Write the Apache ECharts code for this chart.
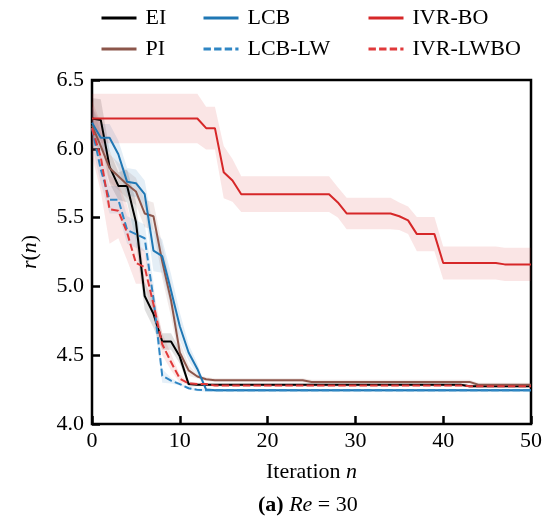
<!DOCTYPE html>
<html>
<head>
<meta charset="utf-8">
<script src="https://cdn.jsdelivr.net/npm/echarts@6/dist/echarts.min.js"></script>
<style>
html,body{margin:0;padding:0;background:#fff;}
#chart{width:547px;height:522px;}
</style>
</head>
<body>
<div id="chart"></div>
<script>
// ---- data (iteration n = 0..50) ----
const xTicks = [0, 10, 20, 30, 40, 50];
const yTicks = [4.0, 4.5, 5.0, 5.5, 6.0, 6.5];
const seriesNames = ['EI', 'PI', 'LCB', 'LCB-LW', 'IVR-BO', 'IVR-LWBO'];

const EI = [6.22, 6.21, 5.87, 5.73, 5.73, 5.47, 4.93, 4.80, 4.60, 4.60,
  4.49, 4.29, 4.285, 4.285, 4.285, 4.285, 4.285, 4.285, 4.285, 4.285,
  4.285, 4.285, 4.285, 4.285, 4.285, 4.285, 4.285, 4.285, 4.285, 4.285,
  4.285, 4.285, 4.285, 4.285, 4.285, 4.285, 4.285, 4.285, 4.285, 4.285,
  4.285, 4.285, 4.285, 4.275, 4.275, 4.275, 4.275, 4.275, 4.275, 4.275, 4.275];
const PI = [6.17, 6.02, 5.86, 5.80, 5.74, 5.69, 5.53, 5.51, 5.18, 4.90,
  4.52, 4.39, 4.345, 4.325, 4.318, 4.318, 4.318, 4.318, 4.318, 4.318,
  4.318, 4.318, 4.318, 4.318, 4.318, 4.306, 4.306, 4.306, 4.306, 4.306,
  4.306, 4.306, 4.306, 4.306, 4.306, 4.306, 4.306, 4.306, 4.306, 4.306,
  4.306, 4.306, 4.306, 4.306, 4.285, 4.285, 4.285, 4.285, 4.285, 4.285, 4.285];
const LCB = [6.19, 6.08, 6.08, 5.96, 5.76, 5.75, 5.67, 5.26, 5.22, 4.97,
  4.71, 4.52, 4.40, 4.25, 4.245, 4.245, 4.245, 4.245, 4.245, 4.245,
  4.245, 4.245, 4.245, 4.245, 4.245, 4.245, 4.245, 4.245, 4.245, 4.245,
  4.245, 4.245, 4.245, 4.245, 4.245, 4.245, 4.245, 4.245, 4.245, 4.245,
  4.245, 4.245, 4.245, 4.245, 4.245, 4.245, 4.245, 4.245, 4.245, 4.245, 4.245];
const LCB_LW = [6.15, 5.85, 5.63, 5.63, 5.41, 5.38, 5.35, 4.91, 4.35, 4.315,
  4.29, 4.26, 4.248, 4.245, 4.245, 4.245, 4.245, 4.245, 4.245, 4.245,
  4.245, 4.245, 4.245, 4.245, 4.245, 4.245, 4.245, 4.245, 4.245, 4.245,
  4.245, 4.245, 4.245, 4.245, 4.245, 4.245, 4.245, 4.245, 4.245, 4.245,
  4.245, 4.245, 4.245, 4.245, 4.245, 4.245, 4.245, 4.245, 4.245, 4.245, 4.245];
const IVR_BO = [6.22, 6.22, 6.22, 6.22, 6.22, 6.22, 6.22, 6.22, 6.22, 6.22,
  6.22, 6.22, 6.22, 6.15, 6.15, 5.83, 5.77, 5.67, 5.67, 5.67,
  5.67, 5.67, 5.67, 5.67, 5.67, 5.67, 5.67, 5.67, 5.61, 5.53,
  5.53, 5.53, 5.53, 5.53, 5.53, 5.51, 5.48, 5.38, 5.38, 5.38,
  5.17, 5.17, 5.17, 5.17, 5.17, 5.17, 5.17, 5.16, 5.16, 5.16, 5.16];
const IVR_LWBO = [6.15, 5.94, 5.56, 5.55, 5.39, 5.17, 5.14, 4.87, 4.58, 4.45,
  4.33, 4.295, 4.29, 4.29, 4.28, 4.28, 4.28, 4.28, 4.28, 4.28,
  4.28, 4.28, 4.28, 4.28, 4.28, 4.28, 4.28, 4.28, 4.28, 4.28,
  4.28, 4.28, 4.28, 4.28, 4.28, 4.28, 4.28, 4.28, 4.28, 4.28,
  4.28, 4.28, 4.28, 4.275, 4.275, 4.275, 4.275, 4.275, 4.275, 4.275, 4.275];

// half-width of the shaded band (std)
const EI_sd = [0.15, 0.15, 0.12, 0.10, 0.12, 0.15, 0.10, 0.10, 0.06, 0.06,
  0.05, 0.02, 0.01, 0.01, 0.01, 0.01, 0.01, 0.01, 0.01, 0.01,
  0.01, 0.01, 0.01, 0.01, 0.01, 0.01, 0.01, 0.01, 0.01, 0.01,
  0.01, 0.01, 0.01, 0.01, 0.01, 0.01, 0.01, 0.01, 0.01, 0.01,
  0.01, 0.01, 0.01, 0.01, 0.01, 0.01, 0.01, 0.01, 0.01, 0.01, 0.01];
const PI_sd = [0.15, 0.10, 0.10, 0.10, 0.10, 0.10, 0.10, 0.10, 0.12, 0.12,
  0.08, 0.04, 0.015, 0.015, 0.015, 0.015, 0.015, 0.015, 0.015, 0.015,
  0.015, 0.015, 0.015, 0.015, 0.015, 0.015, 0.015, 0.015, 0.015, 0.015,
  0.015, 0.015, 0.015, 0.015, 0.015, 0.015, 0.015, 0.015, 0.015, 0.015,
  0.015, 0.015, 0.015, 0.015, 0.015, 0.015, 0.015, 0.015, 0.015, 0.015, 0.015];
const LCB_sd = [0.12, 0.10, 0.10, 0.10, 0.10, 0.10, 0.10, 0.15, 0.12, 0.12,
  0.10, 0.06, 0.04, 0.01, 0.01, 0.01, 0.01, 0.01, 0.01, 0.01,
  0.01, 0.01, 0.01, 0.01, 0.01, 0.01, 0.01, 0.01, 0.01, 0.01,
  0.01, 0.01, 0.01, 0.01, 0.01, 0.01, 0.01, 0.01, 0.01, 0.01,
  0.01, 0.01, 0.01, 0.01, 0.01, 0.01, 0.01, 0.01, 0.01, 0.01, 0.01];
const LCB_LW_sd = [0.12, 0.10, 0.10, 0.10, 0.10, 0.10, 0.10, 0.12, 0.05, 0.02,
  0.01, 0.01, 0.01, 0.01, 0.01, 0.01, 0.01, 0.01, 0.01, 0.01,
  0.01, 0.01, 0.01, 0.01, 0.01, 0.01, 0.01, 0.01, 0.01, 0.01,
  0.01, 0.01, 0.01, 0.01, 0.01, 0.01, 0.01, 0.01, 0.01, 0.01,
  0.01, 0.01, 0.01, 0.01, 0.01, 0.01, 0.01, 0.01, 0.01, 0.01, 0.01];
const IVR_BO_sd = [0.18, 0.18, 0.18, 0.18, 0.18, 0.18, 0.18, 0.18, 0.18, 0.18,
  0.18, 0.18, 0.18, 0.155, 0.155, 0.19, 0.155, 0.13, 0.13, 0.13,
  0.13, 0.13, 0.13, 0.13, 0.13, 0.13, 0.13, 0.13, 0.11, 0.115,
  0.115, 0.115, 0.115, 0.115, 0.115, 0.10, 0.10, 0.125, 0.125, 0.125,
  0.12, 0.12, 0.12, 0.12, 0.12, 0.12, 0.12, 0.12, 0.12, 0.12, 0.12];
const IVR_LWBO_sd = [0.20, 0.25, 0.25, 0.20, 0.20, 0.15, 0.12, 0.10, 0.08, 0.06,
  0.03, 0.01, 0.01, 0.01, 0.01, 0.01, 0.01, 0.01, 0.01, 0.01,
  0.01, 0.01, 0.01, 0.01, 0.01, 0.01, 0.01, 0.01, 0.01, 0.01,
  0.01, 0.01, 0.01, 0.01, 0.01, 0.01, 0.01, 0.01, 0.01, 0.01,
  0.01, 0.01, 0.01, 0.01, 0.01, 0.01, 0.01, 0.01, 0.01, 0.01, 0.01];

// ---- build ----
const FONT = '"Liberation Serif", "DejaVu Serif", serif';
const specs = [
  {name: 'EI', mean: EI, sd: EI_sd, color: '#000000', dash: 'solid'},
  {name: 'PI', mean: PI, sd: PI_sd, color: '#8c564b', dash: 'solid'},
  {name: 'LCB', mean: LCB, sd: LCB_sd, color: '#1f77b4', dash: 'solid'},
  {name: 'LCB-LW', mean: LCB_LW, sd: LCB_LW_sd, color: '#2f86c4', dash: [7.4, 3.2]},
  {name: 'IVR-BO', mean: IVR_BO, sd: IVR_BO_sd, color: '#d62728', dash: 'solid'},
  {name: 'IVR-LWBO', mean: IVR_LWBO, sd: IVR_LWBO_sd, color: '#e0393a', dash: [7.4, 3.2]}
];

const series = [];
specs.forEach((s) => {
  const bandData = s.mean.map((v, i) => [i, v - s.sd[i], v + s.sd[i]]);
  series.push({
    name: s.name + ' band', type: 'custom', silent: true, z: 1,
    data: bandData,
    encode: {x: 0, y: [1, 2]},
    renderItem: function (params, api) {
      if (params.dataIndex !== 0) return null;
      const up = [], lo = [];
      for (let i = 0; i < bandData.length; i++) {
        up.push(api.coord([bandData[i][0], bandData[i][2]]));
        lo.push(api.coord([bandData[i][0], bandData[i][1]]));
      }
      const pts = up.concat(lo.reverse());
      return {
        type: 'polygon',
        shape: {points: pts},
        style: {fill: s.color, opacity: 0.12, stroke: null}
      };
    }
  });
});
specs.forEach((s) => {
  series.push({
    name: s.name, type: 'line', data: s.mean.map((v, i) => [i, v]),
    symbol: 'none', z: 5,
    lineStyle: {color: s.color, width: 2, type: s.dash},
    itemStyle: {color: s.color}
  });
});

const legendCommon = {
  orient: 'vertical', top: 7, padding: 0, itemWidth: 35, itemHeight: 14, itemGap: 9,
  lineStyle: {width: 3},
  itemStyle: {opacity: 0},
  textStyle: {fontFamily: FONT, fontSize: 22, color: '#000', lineHeight: 22, padding: [0, 0, 0, 4]}
};

const option = {
  backgroundColor: '#fff',
  animation: false,
  grid: {left: 92, right: 16, top: 80, bottom: 98, show: true, borderColor: '#000', borderWidth: 2.5, backgroundColor: 'transparent'},
  legend: [
    Object.assign({}, legendCommon, {left: 100, data: ['EI', 'PI']}),
    Object.assign({}, legendCommon, {left: 202, data: ['LCB', 'LCB-LW']}),
    Object.assign({}, legendCommon, {left: 367, data: ['IVR-BO', 'IVR-LWBO']})
  ],
  xAxis: {
    type: 'value', min: xTicks[0], max: xTicks[xTicks.length - 1], interval: 10,
    axisLine: {show: false},
    axisTick: {inside: true, length: 8, lineStyle: {color: '#000', width: 2.5}},
    splitLine: {show: false},
    axisLabel: {fontFamily: FONT, fontSize: 22, color: '#000', margin: 6,
      showMinLabel: true, showMaxLabel: true},
    name: '{r|Iteration }{i|n}', nameLocation: 'middle', nameGap: 37,
    nameTextStyle: {rich: {
      r: {fontFamily: FONT, fontSize: 22, color: '#000'},
      i: {fontFamily: FONT, fontSize: 22, color: '#000', fontStyle: 'italic'}
    }}
  },
  yAxis: {
    type: 'value', min: yTicks[0], max: yTicks[yTicks.length - 1], interval: 0.5,
    axisLine: {show: false},
    axisTick: {inside: true, length: 8, lineStyle: {color: '#000', width: 2.5}},
    splitLine: {show: false},
    axisLabel: {fontFamily: FONT, fontSize: 22, color: '#000', margin: 8,
      formatter: (v) => v.toFixed(1)},
    name: '{i|r}{r|(}{i|n}{r|)}', nameLocation: 'middle', nameGap: 51, nameRotate: 90,
    nameTextStyle: {rich: {
      r: {fontFamily: FONT, fontSize: 22, color: '#000'},
      i: {fontFamily: FONT, fontSize: 22, color: '#000', fontStyle: 'italic'}
    }}
  },
  graphic: [{
    type: 'text', left: 258, top: 494,
    style: {
      text: '{b|(a)}{r| }{i|Re}{r| = 30}',
      rich: {
        b: {fontFamily: FONT, fontSize: 22, fontWeight: 'bold', fill: '#000'},
        i: {fontFamily: FONT, fontSize: 22, fontStyle: 'italic', fill: '#000'},
        r: {fontFamily: FONT, fontSize: 22, fill: '#000'}
      }
    }
  }],
  series: series
};

const chart = echarts.init(document.getElementById('chart'), null, {renderer: 'canvas'});
chart.setOption(option);
</script>
</body>
</html>
